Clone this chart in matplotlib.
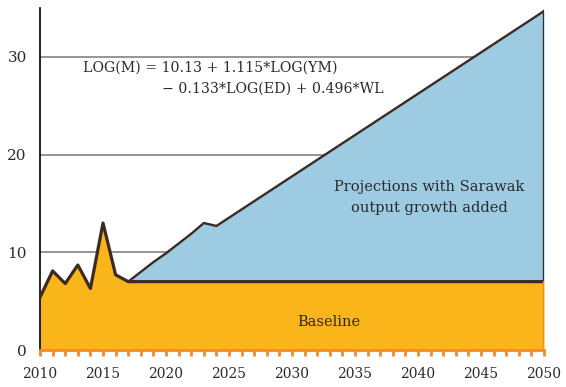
import matplotlib.pyplot as plt
import numpy as np

# Baseline (historical + flat)
base_years = [2010, 2011, 2012, 2013, 2014, 2015, 2016, 2017, 2050]
base_vals = [5.4, 8.1, 6.8, 8.7, 6.3, 13.0, 7.7, 7.0, 7.0]

# Projection with Sarawak output growth
proj_years = [2017, 2018, 2019, 2020, 2021, 2022, 2023, 2024, 2050]
proj_vals = [7.0, 8.0, 9.0, 9.9, 10.9, 11.9, 13.0, 12.7, 34.7]

orange = '#F9B51A'
orange_edge = '#F58A2A'
blue = '#9CCBE2'
dark = '#3B2B24'
txt = '#2b2b2b'

plt.rcParams['font.family'] = ['DejaVu Serif']

fig = plt.figure(figsize=(5.66, 3.87), dpi=100)
ax = fig.add_axes([0.0707, 0.0956, 0.8905, 0.8834])

ax.set_xlim(2010, 2050)
ax.set_ylim(0, 35)

# grid
for yv in [10, 20, 30]:
    ax.axhline(yv, color='#8c8c8c', lw=1.3, zorder=0)

# fills
ax.fill_between(base_years, 0, base_vals, color=orange, lw=0, zorder=1)
base_interp = np.interp(proj_years, base_years, base_vals)
ax.fill_between(proj_years, base_interp, proj_vals, color=blue, lw=0, zorder=1)

# outlines
ax.plot(base_years, base_vals, color=dark, lw=2.3, zorder=3)
ax.plot(proj_years, proj_vals, color=dark, lw=1.7, zorder=3)
ax.plot([2050, 2050], [base_vals[-1], proj_vals[-1]], color=dark, lw=1.7, zorder=3)
ax.plot([2050, 2050], [0, base_vals[-1]], color=orange_edge, lw=1.6, zorder=3)

# spines
for s in ['top', 'right']:
    ax.spines[s].set_visible(False)
ax.spines['left'].set_color('black')
ax.spines['left'].set_linewidth(1.2)
ax.spines['bottom'].set_color(orange_edge)
ax.spines['bottom'].set_linewidth(2)
ax.spines['bottom'].set_zorder(4)

ax.set_xticks(range(2010, 2051, 5))
ax.set_xticks(range(2010, 2051, 1), minor=True)
ax.tick_params(axis='x', which='both', direction='out', color=orange_edge,
               width=2, length=4, labelsize=10, pad=8.5, labelcolor=txt)
ax.set_yticks([0, 10, 20, 30])
ax.tick_params(axis='y', length=0, labelsize=11, pad=9.5, labelcolor=txt)

ax.text(2013.4, 28.9, 'LOG(M) = 10.13 + 1.115*LOG(YM)', fontsize=10.2,
        va='center', color=txt, zorder=5)
ax.text(2019.7, 26.8, '\u2212 0.133*LOG(ED) + 0.496*WL', fontsize=10.2,
        va='center', color=txt, zorder=5)
ax.text(2040.9, 15.6, 'Projections with Sarawak\noutput growth added', fontsize=10.5,
        ha='center', va='center', linespacing=1.65, color=txt, zorder=5)
ax.text(2032.9, 2.9, 'Baseline', fontsize=10.5, ha='center', va='center',
        color=txt, zorder=5)

plt.savefig('out.png', dpi=100)
